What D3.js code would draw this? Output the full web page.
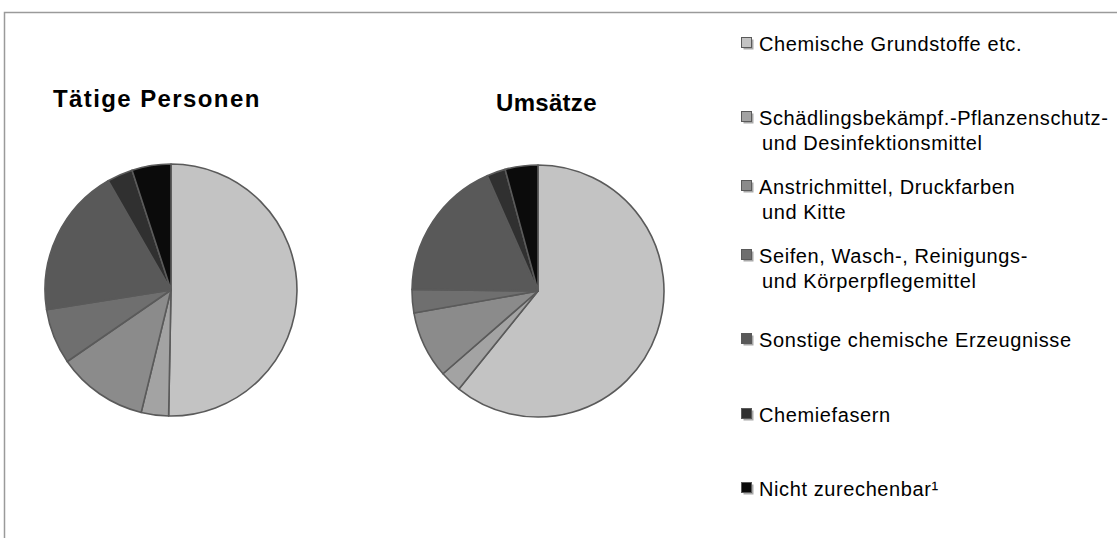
<!DOCTYPE html>
<html>
<head>
<meta charset="utf-8">
<script src="https://cdn.jsdelivr.net/npm/d3@7"></script>
<style>
  html, body { margin: 0; padding: 0; background: #fff; }
  svg { display: block; }
</style>
</head>
<body>
<svg id="chart" width="1117" height="538"></svg>
<script>
// ---- data ----
const categories = [
  ["Chemische Grundstoffe etc."],
  ["Schädlingsbekämpf.-Pflanzenschutz-", "und Desinfektionsmittel"],
  ["Anstrichmittel, Druckfarben", "und Kitte"],
  ["Seifen, Wasch-, Reinigungs-", "und Körperpflegemittel"],
  ["Sonstige chemische Erzeugnisse"],
  ["Chemiefasern"],
  ["Nicht zurechenbar¹"]
];
const pieTitles = ["Tätige Personen", "Umsätze"];
const taetigePersonen = [50.3, 3.5, 11.6, 7.1, 19.2, 3.3, 5.0];
const umsaetze = [60.8, 2.8, 8.6, 3.0, 18.2, 2.4, 4.2];
const sliceColors = ["#c3c3c3", "#a3a3a3", "#8b8b8b", "#6f6f6f", "#595959", "#303030", "#0b0b0b"];

const svg = d3.select("#chart");

// frame
svg.append("path")
  .attr("d", "M4.5,538 V12.5 H1117")
  .attr("fill", "none")
  .attr("stroke", "#9a9a9a")
  .attr("stroke-width", 1.5);

const pie = d3.pie().sort(null).value(d => d);
const arc = d3.arc().innerRadius(0).outerRadius(126);
const color = d3.scaleOrdinal().domain(d3.range(categories.length)).range(sliceColors);

const pies = [
  { title: pieTitles[0], values: taetigePersonen, cx: 171, cy: 290, tx: 53, ty: 107, ls: 1.4 },
  { title: pieTitles[1], values: umsaetze, cx: 538, cy: 291, tx: 496, ty: 111, ls: 0.3 }
];

pies.forEach(p => {
  const g = svg.append("g").attr("transform", `translate(${p.cx},${p.cy})`);
  g.selectAll("path")
    .data(pie(p.values))
    .enter().append("path")
    .attr("d", arc)
    .attr("fill", (d, i) => color(i))
    .attr("stroke", "#5a5a5a")
    .attr("stroke-width", 1.6)
    .attr("stroke-linejoin", "round");
  svg.append("text")
    .attr("x", p.tx).attr("y", p.ty)
    .attr("font-family", "'Liberation Sans', Arial, sans-serif")
    .attr("font-weight", "bold")
    .attr("font-size", 24)
    .attr("letter-spacing", p.ls)
    .attr("fill", "#000")
    .text(p.title);
});

// legend
const legendRowY = [44, 118, 187, 256, 340, 415, 489];
const lg = svg.append("g");
categories.forEach((lines, i) => {
  const y = legendRowY[i];
  lg.append("rect")
    .attr("x", 743.5).attr("y", y - 4.5)
    .attr("width", 10).attr("height", 10)
    .attr("fill", "#a8a8a8");
  lg.append("rect")
    .attr("x", 741.5).attr("y", y - 6.5)
    .attr("width", 10).attr("height", 10)
    .attr("fill", color(i))
    .attr("stroke", "#5a5a5a")
    .attr("stroke-width", 1);
  const t = lg.append("text")
    .attr("x", 759).attr("y", y + 7)
    .attr("font-family", "'Liberation Sans', Arial, sans-serif")
    .attr("font-size", 20)
    .attr("letter-spacing", 0.6)
    .attr("fill", "#000");
  lines.forEach((ln, j) => {
    t.append("tspan")
      .attr("x", j === 0 ? 759 : 762)
      .attr("dy", j === 0 ? 0 : 24.5)
      .text(ln);
  });
});
</script>
</body>
</html>
